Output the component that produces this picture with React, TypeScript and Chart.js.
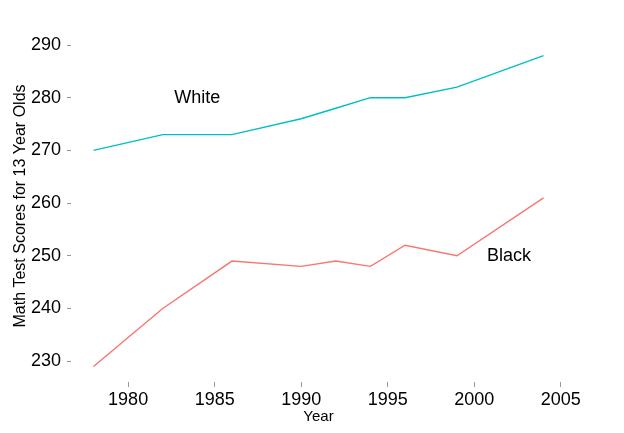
import React, { useEffect, useRef } from "react";
import { Chart, registerables } from "chart.js";

Chart.register(...registerables);

const years = [1978, 1982, 1986, 1990, 1992, 1994, 1996, 1999, 2004];
const whiteScores = [270, 273, 273, 276, 278, 280, 280, 282, 288];
const blackScores = [229, 240, 249, 248, 249, 248, 252, 250, 261];
const xTicks = [1980, 1985, 1990, 1995, 2000, 2005];
const yTicks = [230, 240, 250, 260, 270, 280, 290];
const labelNames = ["White", "Black"];
const labelYears = [1984, 2002];
const labelScores = [280, 250];
const yTitle = "Math Test Scores for 13 Year Olds";
const xTitle = "Year";

const FONT = "'Liberation Sans', Arial, Helvetica, sans-serif";

const textLabels = {
  id: "textLabels",
  afterDatasetsDraw(chart: any) {
    const { ctx, scales, chartArea } = chart;
    ctx.save();
    ctx.font = `18px ${FONT}`;
    ctx.fillStyle = "#000";
    ctx.textAlign = "center";
    ctx.textBaseline = "middle";
    labelNames.forEach((t, i) => {
      ctx.fillText(t, scales.x.getPixelForValue(labelYears[i]), scales.y.getPixelForValue(labelScores[i]));
    });
    // rotated y-axis title
    ctx.font = `16px ${FONT}`;
    ctx.translate(21, (chartArea.top + chartArea.bottom) / 2 - 5);
    ctx.rotate(-Math.PI / 2);
    ctx.fillText(yTitle, 0, 0);
    ctx.restore();
  },
};

export default function App() {
  const ref = useRef<HTMLCanvasElement>(null);
  useEffect(() => {
    const chart = new Chart(ref.current!, {
      type: "line",
      data: {
        datasets: [
          {
            label: "White",
            data: years.map((y, i) => ({ x: y, y: whiteScores[i] })),
            borderColor: "#00BFC4",
            borderWidth: 1.4,
            pointRadius: 0,
            tension: 0,
          },
          {
            label: "Black",
            data: years.map((y, i) => ({ x: y, y: blackScores[i] })),
            borderColor: "#F8766D",
            borderWidth: 1.4,
            pointRadius: 0,
            tension: 0,
          },
        ],
      },
      options: {
        responsive: false,
        animation: false,
        layout: { padding: { left: 0, top: 40, right: 58, bottom: 0 } },
        plugins: { legend: { display: false }, tooltip: { enabled: false } },
        scales: {
          x: {
            type: "linear",
            min: 1976.7,
            max: 2005.3,
            afterBuildTicks: (s: any) => {
              s.ticks = xTicks.map((v) => ({ value: v }));
            },
            afterFit: (s: any) => {
              s.height = 51;
            },
            border: { display: false },
            grid: { drawOnChartArea: false, drawTicks: true, tickLength: 5, color: "#999", lineWidth: 1 },
            ticks: {
              color: "#000",
              padding: 2,
              maxRotation: 0,
              font: { family: FONT, size: 18 },
              callback: (v: any) => String(v),
            },
            title: {
              display: true,
              text: xTitle,
              color: "#000",
              font: { family: FONT, size: 15 },
              padding: { top: 0, bottom: 7 },
            },
          },
          y: {
            type: "linear",
            min: 226.05,
            max: 290.95,
            afterBuildTicks: (s: any) => {
              s.ticks = yTicks.map((v) => ({ value: v }));
            },
            afterFit: (s: any) => {
              s.width = 71;
            },
            border: { display: false },
            grid: { drawOnChartArea: false, drawTicks: true, tickLength: 4, color: "#999", lineWidth: 1 },
            ticks: {
              color: "#000",
              padding: 6,
              font: { family: FONT, size: 18 },
              callback: (v: any) => String(v),
            },
          },
        },
      },
      plugins: [textLabels],
    });
    return () => chart.destroy();
  }, []);
  return (
    <div style={{ position: "fixed", left: 0, top: 0, width: 624, height: 433, background: "#fff" }}>
      <canvas ref={ref} width={624} height={433} style={{ display: "block" }} />
    </div>
  );
}
